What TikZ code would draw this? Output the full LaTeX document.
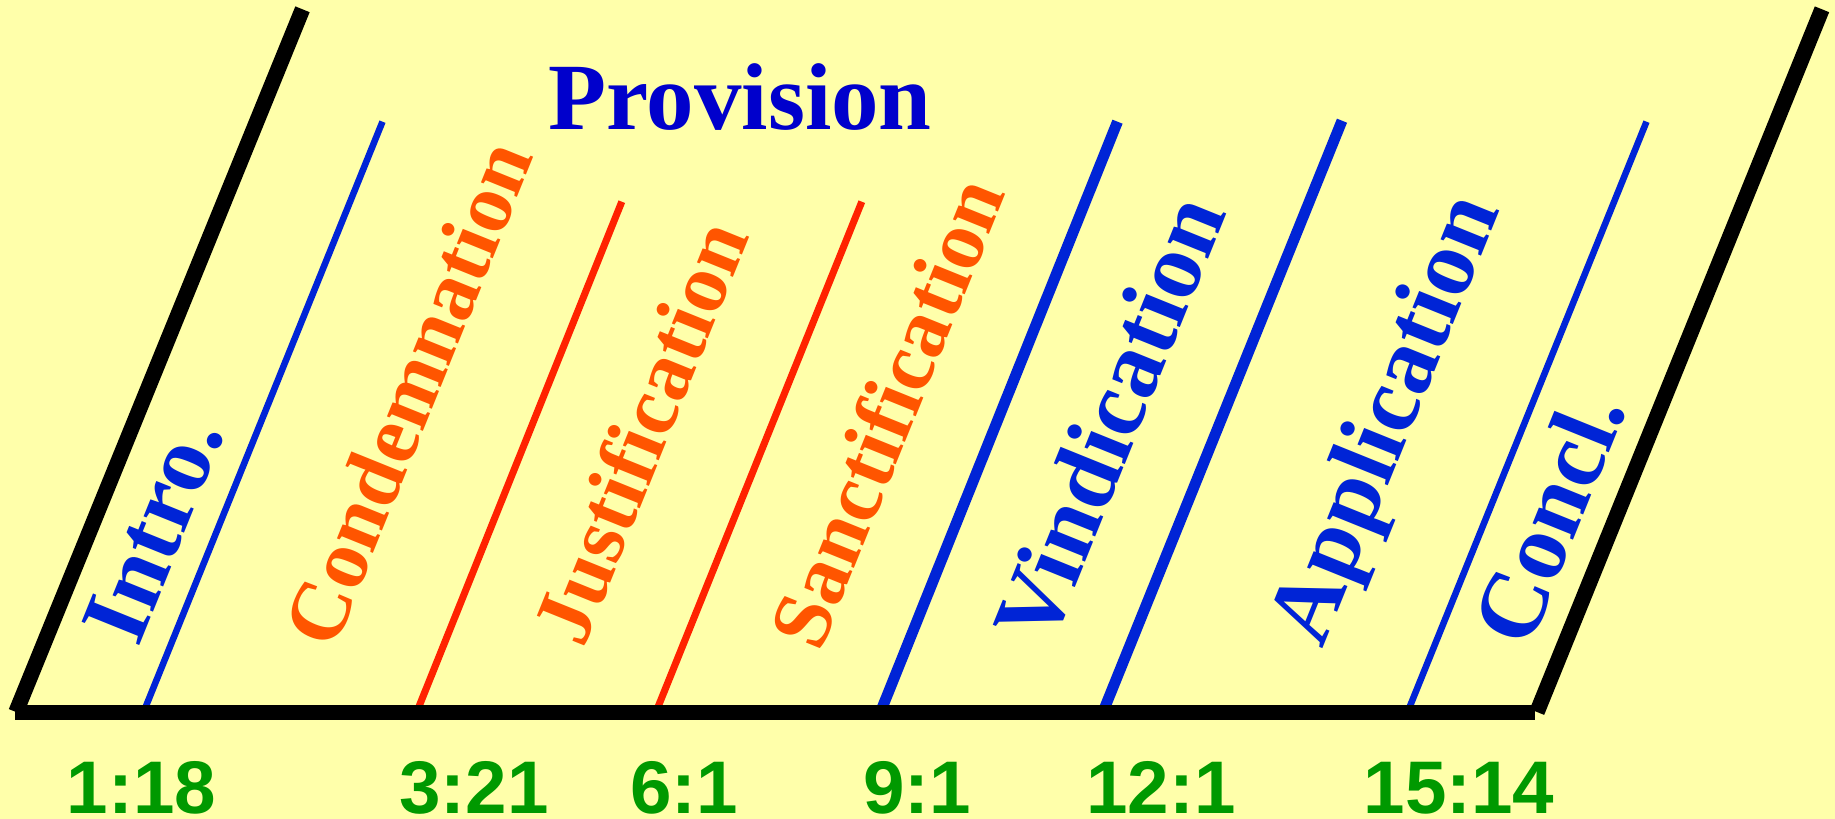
\documentclass[tikz,border=0pt]{standalone}
\usepackage{fontspec}
\setmainfont{Liberation Serif}
\newfontfamily\labelsans{Liberation Sans}
\definecolor{bgyellow}{RGB}{255,255,170}
\definecolor{headblue}{RGB}{0,0,204}
\definecolor{lineblue}{RGB}{0,36,214}
\definecolor{textorange}{RGB}{255,85,0}
\definecolor{linered}{RGB}{255,34,0}
\definecolor{refgreen}{RGB}{0,153,0}
\begin{document}
\begin{tikzpicture}[x=0.01cm,y=-0.01cm,
  frame/.style={draw=black,line width=4.4pt},
  thinblue/.style={draw=lineblue,line width=1.85pt},
  thickblue/.style={draw=lineblue,line width=3.1pt},
  redline/.style={draw=linered,line width=2pt},
  slant/.style={rotate=68,anchor=base west,inner sep=0pt},
  bluelabel/.style={slant,text=lineblue,font=\fontsize{27}{27}\selectfont\bfseries},
  orangelabel/.style={slant,text=textorange,font=\fontsize{24}{24}\selectfont\bfseries},
  ref/.style={anchor=base,inner sep=0pt,text=refgreen,font=\labelsans\fontsize{21.2}{21.2}\selectfont\bfseries}
]
\fill[bgyellow] (0,0) rectangle (1835,819);
\useasboundingbox (0,0) rectangle (1835,819);

% dividing lines
\draw[thinblue]  (143.6,712) -- (382.5,121.7);
\draw[redline]   (416.8,712) -- (621.8,201.7);
\draw[redline]   (656,712)   -- (861.8,201.7);
\draw[thickblue] (880.5,712) -- (1117.5,121.7);
\draw[thickblue] (1103,712)  -- (1342,120.7);
\draw[thinblue]  (1407.6,712) -- (1646.5,121.7);

% frame
\draw[frame] (16,712) -- (302.5,9.3);
\draw[frame] (1537,712) -- (1822,9.3);
\draw[frame] (15,712.5) -- (1535,712.5);

% title
\node[anchor=base,inner sep=0pt,text=headblue,font=\fontsize{27}{27}\selectfont\bfseries] (title) at (740,130) {Provision};

% section labels
\node[bluelabel]   (intro)  at (138,649)  {Intro.};
\node[orangelabel] (cond)   at (334,652)  {Condemnation};
\node[orangelabel] (just)   at (583,650)  {Justification};
\node[orangelabel] (sanct)  at (820,654)  {Sanctification};
\node[bluelabel]   (vind)   at (1050,650) {Vindication};
\node[bluelabel]   (appl)   at (1322,650) {Application};
\node[bluelabel]   (concl)  at (1529,651) {Concl.};

% references
\node[ref] (r1) at (141.5,814) {1:18};
\node[ref] (r2) at (474,814)   {3:21};
\node[ref] (r3) at (684,814)   {6:1};
\node[ref] (r4) at (917,814)   {9:1};
\node[ref] (r5) at (1161,814)  {12:1};
\node[ref] (r6) at (1459,814)  {15:14};
\end{tikzpicture}
\end{document}
